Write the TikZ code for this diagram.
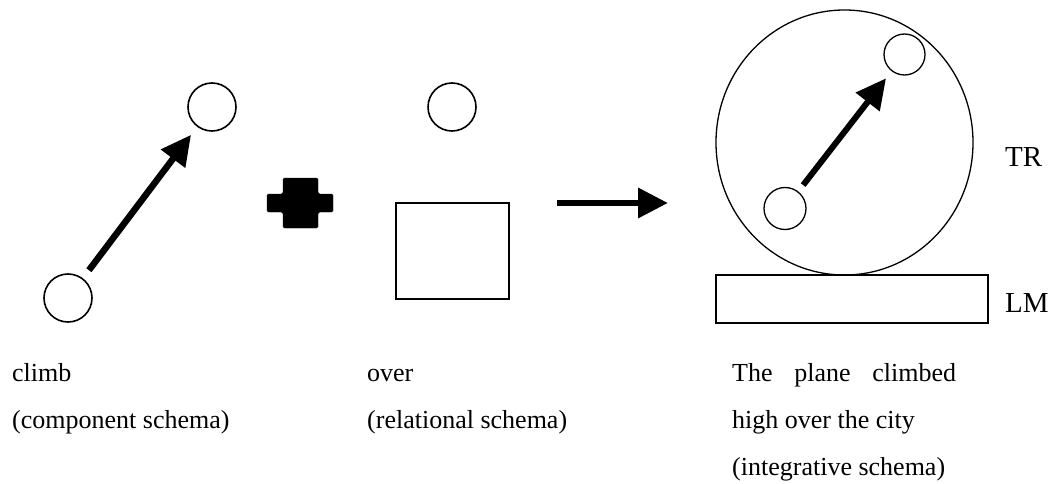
\documentclass[tikz,border=0pt]{standalone}
\usepackage{fontspec}
\setmainfont{Liberation Serif}
\usetikzlibrary{arrows.meta}
\usetikzlibrary{shapes.geometric}

\begin{document}
\begin{tikzpicture}[x=1pt, y=-1pt,
  blob/.style={circle, draw=black, line width=1.6pt, minimum size=48pt, inner sep=0pt},
  push/.style={line width=6.5pt, -{Triangle[length=30pt,width=29pt]}},
  lbl/.style={inner sep=0pt, anchor=base west, font=\fontsize{26}{30}\selectfont},
  tag/.style={inner sep=0pt, anchor=base west, font=\fontsize{29}{33}\selectfont}]
\useasboundingbox (0,0) rectangle (1055,484);
% climb
\node[blob] (c-low) at (68,298) {};
\node[blob] (c-high) at (212,107) {};
\draw[push, shorten <=10pt, shorten >=10pt] (c-low) -- (c-high);
% plus sign
\filldraw[rounded corners=1.5pt] (267,194) -- (283,194) -- (283,178) -- (318,178) -- (318,194) -- (333,194)
  -- (333,212) -- (318,212) -- (318,228) -- (283,228) -- (283,212) -- (267,212) -- cycle;
% over
\node[blob] (o-tr) at (452,107) {};
\node[draw, line width=1.6pt, minimum width=113pt, minimum height=96pt, inner sep=0pt] (o-lm) at (452.5,251) {};
\coordinate (go-from) at (557,203);
\coordinate (go-to) at (668,203);
\draw[push] (go-from) -- (go-to);
% integrative
\node[ellipse, draw, line width=1.3pt, minimum width=257pt, minimum height=265pt, inner sep=0pt] (i-tr) at (844.5,142.5) {};
\node[blob, minimum size=41pt, line width=1.3pt] (i-top) at (904.5,54.5) {};
\node[blob, minimum size=42pt, line width=1.3pt] (i-low) at (785,208.5) {};
\draw[push, line width=6pt, shorten <=8pt, shorten >=9pt] (i-low) -- (i-top);
\node[draw, line width=1.6pt, minimum width=272pt, minimum height=48pt, inner sep=0pt] (i-lm) at (852,299) {};
% texts
\node[lbl] (t-climb) at (12,381) {climb};
\node[lbl] (t-comp) at (12,428) {(component schema)};
\node[lbl] (t-over) at (367,381) {over};
\node[lbl] (t-rel) at (367,428) {(relational schema)};
\node[lbl] (t-sent1) at (732,381) {\makebox[224pt][s]{The plane climbed}};
\node[lbl] (t-sent2) at (732,428) {high over the city};
\node[lbl] (t-int) at (732,475) {(integrative schema)};
\node[tag] (t-tr) at (1005,167) {TR};
\node[tag] (t-lm) at (1005,312) {LM};
\end{tikzpicture}
\end{document}
